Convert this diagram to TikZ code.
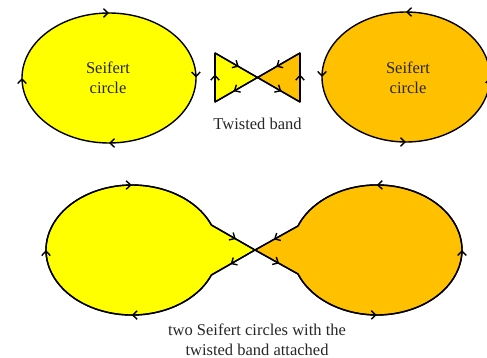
\documentclass[tikz,border=0pt]{standalone}
\usepackage{fontspec}
\setmainfont{Liberation Serif}
\usetikzlibrary{arrows.meta,decorations.markings}
\definecolor{bandyellow}{HTML}{FFFF00}
\definecolor{bandorange}{HTML}{FFC000}
\tikzset{
  barb/.tip={Straight Barb[length=4.5pt,width=8.5pt]},
  outline/.style={draw=black, line width=1.4pt, line join=round},
  caption/.style={font=\fontsize{16.5}{19.5}\selectfont, align=center, text=black!85},
  midflow/.style={decoration={markings, arr=0.56}, postaction=decorate},
}
% one open arrowhead placed along a path at a given fraction
\pgfkeys{/pgf/decoration/arr/.style={mark=at position #1 with {\arrow{barb}}}}

\begin{document}
\begin{tikzpicture}[x=1pt,y=-1pt]
\useasboundingbox (0,0) rectangle (487,358);

% ---- Seifert circle, clockwise
\draw[outline, fill=bandyellow,
      decoration={markings, arr=0.25, arr=0.5, arr=0.75, arr=0.999}, postaction=decorate]
  (196,78) arc[start angle=0, end angle=360, x radius=87, y radius=65];
\node[caption] (sc1) at (108,78) {Seifert\\circle};

% ---- Seifert circle, anticlockwise
\draw[outline, fill=bandorange,
      decoration={markings, arr=0.25, arr=0.5, arr=0.75, arr=0.999}, postaction=decorate]
  (490,77) arc[start angle=0, end angle=-360, x radius=84, y radius=65];
\node[caption] (sc2) at (408,78) {Seifert\\circle};

% ---- twisted band
\coordinate (tl) at (215,53);
\coordinate (bl) at (215,102);
\coordinate (tr) at (300,53);
\coordinate (br) at (300,102);
\coordinate (tx) at (257.5,77.5);
\draw[outline, fill=bandyellow] (bl) -- (tl) -- (tx) -- cycle;
\draw[outline, fill=bandorange] (br) -- (tr) -- (tx) -- cycle;
\draw[outline, midflow] (bl) -- (tl);
\draw[outline, midflow] (tl) -- (tx);
\draw[outline, midflow] (tx) -- (bl);
\draw[outline, midflow] (br) -- (tr);
\draw[outline, midflow] (tr) -- (tx);
\draw[outline, midflow] (tx) -- (br);
\node[caption, anchor=base] (tb) at (257.5,130) {Twisted band};

% ---- the two circles joined by the band
\coordinate (X) at (255,250);
\coordinate (L1) at (211.4,225);
\coordinate (L2) at (211.4,275);
\coordinate (R1) at (298,226);
\coordinate (R2) at (298,274);
\draw[outline, fill=bandyellow]
  (L2) arc[start angle=22.6, end angle=337.4, x radius=86, y radius=65] -- (X) -- cycle;
\draw[outline, fill=bandorange]
  (R2) arc[start angle=158.3, end angle=-158.3, x radius=85, y radius=65] -- (X) -- cycle;
\draw[outline, decoration={markings, arr=0.22, arr=0.5, arr=0.78}, postaction=decorate]
  (L2) arc[start angle=22.6, end angle=337.4, x radius=86, y radius=65];
\draw[outline, decoration={markings, arr=0.22, arr=0.5, arr=0.78}, postaction=decorate]
  (R2) arc[start angle=158.3, end angle=-158.3, x radius=85, y radius=65];
\draw[outline, midflow] (L1) -- (X);
\draw[outline, midflow] (X) -- (L2);
\draw[outline, midflow] (R1) -- (X);
\draw[outline, midflow] (X) -- (R2);
\node[caption] (both) at (257,340) {two Seifert circles with the\\twisted band attached};
\end{tikzpicture}
\end{document}
